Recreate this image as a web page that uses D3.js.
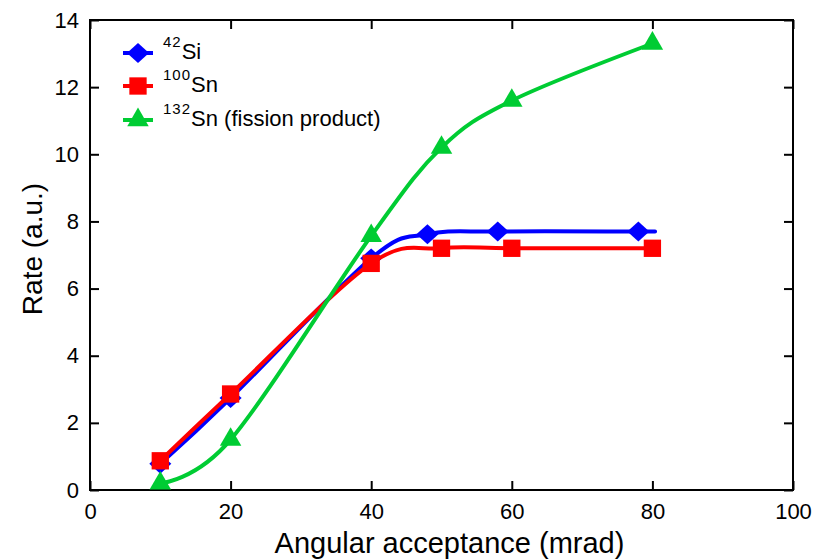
<!DOCTYPE html>
<html>
<head>
<meta charset="utf-8">
<script src="https://cdn.jsdelivr.net/npm/d3@7"></script>
<style>
  body { margin: 0; background: #fff; }
  svg { display: block; font-family: "Liberation Sans", Arial, sans-serif; }
</style>
</head>
<body>
<svg id="chart" width="830" height="559"></svg>
<script>
// values
const siX = [10, 20, 40, 48, 58, 78, 80];
const siY = [0.78, 2.74, 6.9, 7.62, 7.7, 7.7, 7.7];
const siMarked = [true, true, true, true, true, true, false];

const snX = [10, 20, 40, 50, 60, 80];
const snY = [0.87, 2.86, 6.75, 7.2, 7.2, 7.2];

const fisX = [10, 20, 40, 50, 60, 80];
const fisY = [0.2, 1.5, 7.57, 10.2, 11.6, 13.3];

const xTicks = [0, 20, 40, 60, 80, 100];
const yTicks = [0, 2, 4, 6, 8, 10, 12, 14];

const series = [
    { sup: '42', name: 'Si', xs: siX, ys: siY, marked: siMarked, color: '#0000ff', shape: 'diamond' },
    { sup: '100', name: 'Sn', xs: snX, ys: snY, color: '#ff0000', shape: 'square' },
    { sup: '132', name: 'Sn (fission product)', xs: fisX, ys: fisY, color: '#00cc33', shape: 'triangle' }
];

const svg = d3.select('#chart');
const plotLeft = 90, plotRight = 793, plotTop = 20, plotBottom = 490;

const x = d3.scaleLinear().domain([0, 100]).range([plotLeft, plotRight]);
const y = d3.scaleLinear().domain([0, 14]).range([plotBottom, plotTop]);

// frame
svg.append('rect')
    .attr('x', plotLeft).attr('y', plotTop)
    .attr('width', plotRight - plotLeft).attr('height', plotBottom - plotTop)
    .attr('fill', 'none').attr('stroke', '#000').attr('stroke-width', 2);

// inward ticks on all four sides
const tickLen = 9;
function styleAxis(g) {
    g.select('.domain').remove();
    g.selectAll('.tick line').attr('stroke', '#000').attr('stroke-width', 2);
    g.selectAll('.tick text').attr('font-size', 22).attr('fill', '#000')
        .attr('font-family', '"Liberation Sans", Arial, sans-serif');
}

svg.append('g')
    .attr('transform', `translate(0,${plotBottom})`)
    .call(d3.axisBottom(x).tickValues(xTicks).tickSize(-tickLen).tickPadding(13).tickFormat(d3.format('d')))
    .call(styleAxis);

svg.append('g')
    .attr('transform', `translate(0,${plotTop})`)
    .call(d3.axisTop(x).tickValues(xTicks).tickSize(-tickLen).tickFormat(''))
    .call(styleAxis);

svg.append('g')
    .attr('transform', `translate(${plotLeft},0)`)
    .call(d3.axisLeft(y).tickValues(yTicks).tickSize(-tickLen).tickPadding(11).tickFormat(d3.format('d')))
    .call(styleAxis);

svg.append('g')
    .attr('transform', `translate(${plotRight},0)`)
    .call(d3.axisRight(y).tickValues(yTicks).tickSize(-tickLen).tickFormat(''))
    .call(styleAxis);

// axis titles
svg.append('text')
    .attr('x', (plotLeft + plotRight) / 2 + 8).attr('y', 553)
    .attr('text-anchor', 'middle')
    .attr('font-size', 29)
    .text('Angular acceptance (mrad)');

svg.append('text')
    .attr('transform', 'translate(42,249) rotate(-90)')
    .attr('text-anchor', 'middle')
    .attr('font-size', 28)
    .text('Rate (a.u.)');

const symbols = {
    diamond: d3.symbol().type(d3.symbolSquare).size(220),
    square: d3.symbol().type(d3.symbolSquare).size(300),
    triangle: d3.symbol().type(d3.symbolTriangle).size(200)
};

function drawMarker(g, shape, cx, cy, color) {
    const p = g.append('path')
        .attr('d', symbols[shape]())
        .attr('fill', color);
    if (shape === 'diamond') {
        p.attr('transform', `translate(${cx},${cy}) scale(1.05,0.95) rotate(45)`);
    } else {
        p.attr('transform', `translate(${cx},${cy})`);
    }
}

// uniform Catmull-Rom, closest to the original smoothed lines
const line = d3.line()
    .x(d => x(d[0]))
    .y(d => y(d[1]))
    .curve(d3.curveCatmullRom.alpha(0));

const plot = svg.append('g');

series.forEach(s => {
    const pts = s.xs.map((v, i) => [v, s.ys[i]]);
    plot.append('path')
        .datum(pts)
        .attr('d', line)
        .attr('fill', 'none')
        .attr('stroke', s.color)
        .attr('stroke-width', 4);
    pts.forEach((p, i) => {
        if (s.marked && !s.marked[i]) return;
        drawMarker(plot, s.shape, x(p[0]), y(p[1]), s.color);
    });
});

// legend
const legend = svg.append('g');
const rowY = [53, 86, 120];
series.forEach((s, i) => {
    const ly = rowY[i];
    legend.append('line')
        .attr('x1', 123).attr('x2', 153)
        .attr('y1', ly).attr('y2', ly)
        .attr('stroke', s.color).attr('stroke-width', 4);
    drawMarker(legend, s.shape, 138, ly, s.color);
    const t = legend.append('text')
        .attr('x', 163).attr('y', ly + 6)
        .attr('font-size', 22);
    t.append('tspan')
        .attr('font-size', 15)
        .attr('letter-spacing', 1)
        .attr('dy', -12)
        .text(s.sup);
    t.append('tspan')
        .attr('dy', 12)
        .text(s.name);
});
</script>
</body>
</html>
